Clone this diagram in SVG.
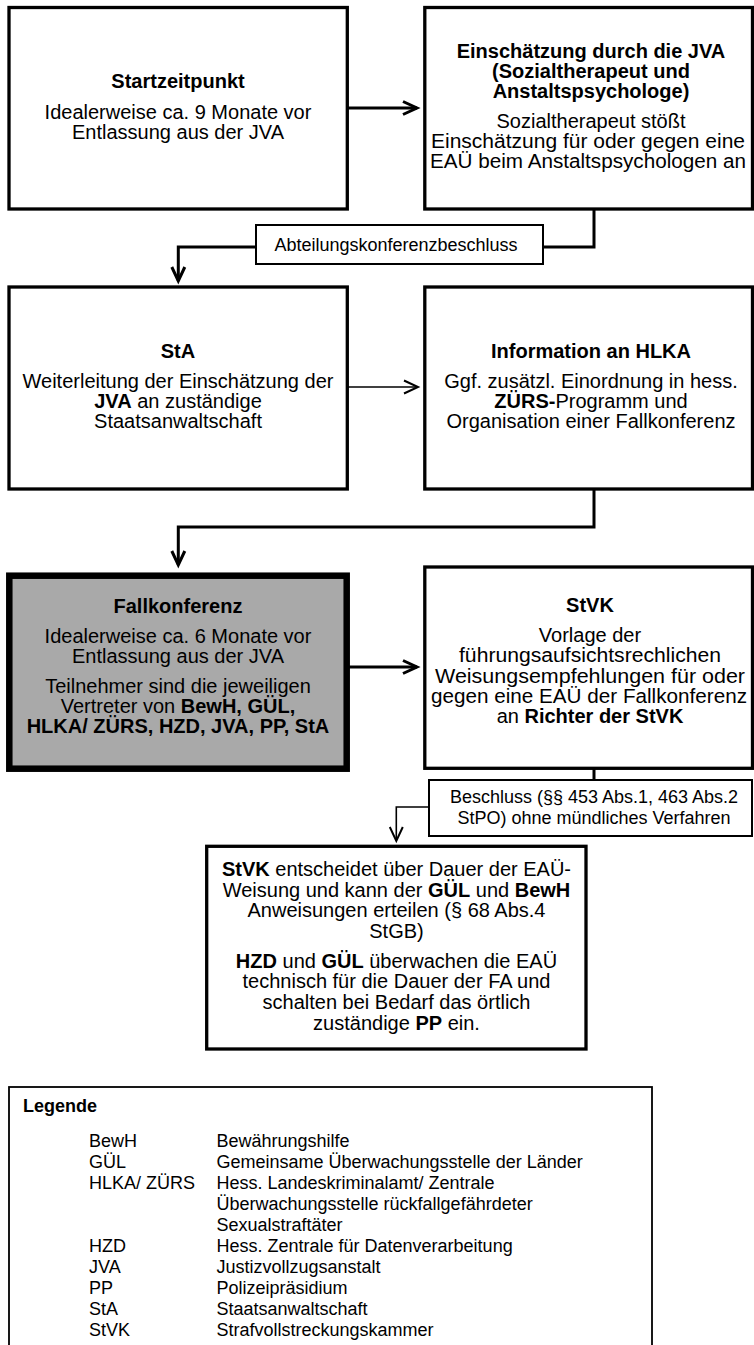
<svg xmlns="http://www.w3.org/2000/svg" width="754" height="1345" viewBox="0 0 754 1345">
<style>
.box{fill:#fff;stroke:#000;stroke-width:3.3}
.fk{fill:#a9a9a9;stroke:#000;stroke-width:6.5}
.lbl{fill:#fff;stroke:#000;stroke-width:2}
.leg{fill:#fff;stroke:#000;stroke-width:1.8}
.c{fill:none;stroke:#000;stroke-width:3}
.ct{fill:none;stroke:#000;stroke-width:1.6}
text{font-family:"Liberation Sans",Arial,Helvetica,sans-serif;fill:#000}
.t{font-size:20px;text-anchor:middle}
.s{font-size:18px;text-anchor:middle}
.lg{font-size:18px}
.b{font-weight:bold}
</style>
<defs>
<marker id="arr" markerUnits="userSpaceOnUse" markerWidth="22" markerHeight="20" viewBox="-17 -10 22 20" refX="0" refY="0" orient="auto">
<path d="M-14,-6.5 L0,0 L-14,6.5" fill="none" stroke="#000" stroke-width="3"/>
</marker>
<marker id="arrt" markerUnits="userSpaceOnUse" markerWidth="22" markerHeight="20" viewBox="-17 -10 22 20" refX="0" refY="0" orient="auto">
<path d="M-14,-6.5 L0,0 L-14,6.5" fill="none" stroke="#000" stroke-width="2"/>
</marker>
</defs>

<g id="connectors">
<path class="c" d="M347,108 H417" marker-end="url(#arr)"/>
<path class="c" d="M594,209 V247 H543"/>
<path class="c" d="M256,247 H178.3 V281" marker-end="url(#arr)"/>
<path class="ct" d="M347,387 H418" marker-end="url(#arrt)"/>
<path class="c" d="M594,489 V527 H178.3 V565" marker-end="url(#arr)"/>
<path class="c" d="M346,667 H417" marker-end="url(#arr)"/>
<path class="c" d="M594,769 V780"/>
<path class="ct" d="M429,807 H396.3 V841" marker-end="url(#arrt)"/>
</g>

<g id="label-abteilung">
<rect class="lbl" x="256" y="225" width="287" height="39"/>
<text class="s" x="396" y="250.5">Abteilungskonferenzbeschluss</text>
</g>

<g id="label-beschluss">
<rect class="lbl" x="429" y="780" width="323" height="56"/>
<text class="s"><tspan x="594" y="803">Beschluss (§§ 453 Abs.1, 463 Abs.2</tspan><tspan x="594" y="824">StPO) ohne mündliches Verfahren</tspan></text>
</g>

<g id="startzeitpunkt">
<rect class="box" x="9" y="7.5" width="338.3" height="201.5"/>
<text class="t"><tspan class="b" x="178" y="88">Startzeitpunkt</tspan><tspan x="178" y="119">Idealerweise ca. 9 Monate vor</tspan><tspan x="178" y="139">Entlassung aus der JVA</tspan></text>
</g>

<g id="einschaetzung">
<rect class="box" x="424.8" y="7.5" width="327.7" height="201.5"/>
<text class="t"><tspan class="b" x="591" y="58">Einschätzung durch die JVA</tspan><tspan class="b" x="591" y="78">(Sozialtherapeut und</tspan><tspan class="b" x="591" y="98">Anstaltspsychologe)</tspan><tspan x="591" y="128">Sozialtherapeut stößt</tspan><tspan x="588" y="148" textLength="314" lengthAdjust="spacingAndGlyphs">Einschätzung für oder gegen eine</tspan><tspan x="588" y="168" textLength="316" lengthAdjust="spacingAndGlyphs">EAÜ beim Anstaltspsychologen an</tspan></text>
</g>

<g id="sta">
<rect class="box" x="9" y="287" width="338.3" height="202"/>
<text class="t"><tspan class="b" x="178" y="358">StA</tspan><tspan x="178" y="388">Weiterleitung der Einschätzung der</tspan><tspan x="178" y="408"><tspan class="b">JVA</tspan> an zuständige</tspan><tspan x="178" y="428">Staatsanwaltschaft</tspan></text>
</g>

<g id="hlka">
<rect class="box" x="424.8" y="287" width="327.7" height="202"/>
<text class="t"><tspan class="b" x="591" y="358">Information an HLKA</tspan><tspan x="591" y="388">Ggf. zusätzl. Einordnung in hess.</tspan><tspan x="591" y="408"><tspan class="b">ZÜRS-</tspan>Programm und</tspan><tspan x="591" y="428">Organisation einer Fallkonferenz</tspan></text>
</g>

<g id="fallkonferenz">
<rect class="fk" x="9.3" y="575.7" width="337.4" height="193"/>
<text class="t"><tspan class="b" x="178" y="613">Fallkonferenz</tspan><tspan x="178" y="643">Idealerweise ca. 6 Monate vor</tspan><tspan x="178" y="663">Entlassung aus der JVA</tspan><tspan x="178" y="693">Teilnehmer sind die jeweiligen</tspan><tspan x="178" y="713">Vertreter von <tspan class="b">BewH, GÜL,</tspan></tspan><tspan class="b" x="178" y="733">HLKA/ ZÜRS, HZD, JVA, PP, StA</tspan></text>
</g>

<g id="stvk">
<rect class="box" x="424.8" y="567" width="327.7" height="201.3"/>
<text class="t"><tspan class="b" x="590" y="612">StVK</tspan><tspan x="590" y="642">Vorlage der</tspan><tspan x="590" y="662" textLength="262" lengthAdjust="spacingAndGlyphs">führungsaufsichtsrechlichen</tspan><tspan x="590" y="683" textLength="310" lengthAdjust="spacingAndGlyphs">Weisungsempfehlungen für oder</tspan><tspan x="589" y="703" textLength="316" lengthAdjust="spacingAndGlyphs">gegen eine EAÜ der Fallkonferenz</tspan><tspan x="590" y="723">an <tspan class="b">Richter der StVK</tspan></tspan></text>
</g>

<g id="entscheidung">
<rect class="box" x="206.7" y="846.3" width="379.3" height="202.7"/>
<text class="t"><tspan x="396.5" y="876"><tspan class="b">StVK</tspan> entscheidet über Dauer der EAÜ-</tspan><tspan x="396.5" y="897">Weisung und kann der <tspan class="b">GÜL</tspan> und <tspan class="b">BewH</tspan></tspan><tspan x="396.5" y="917">Anweisungen erteilen (§ 68 Abs.4</tspan><tspan x="396.5" y="938">StGB)</tspan><tspan x="396.5" y="968"><tspan class="b">HZD</tspan> und <tspan class="b">GÜL</tspan> überwachen die EAÜ</tspan><tspan x="396.5" y="988">technisch für die Dauer der FA und</tspan><tspan x="396.5" y="1009">schalten bei Bedarf das örtlich</tspan><tspan x="396.5" y="1030">zuständige <tspan class="b">PP</tspan> ein.</tspan></text>
</g>

<g id="legende">
<rect class="leg" x="9" y="1087" width="643" height="300"/>
<text class="lg b" x="23" y="1112">Legende</text>
<text class="lg"><tspan x="89" y="1147">BewH</tspan><tspan x="89" y="1168">GÜL</tspan><tspan x="89" y="1189">HLKA/ ZÜRS</tspan><tspan x="89" y="1252">HZD</tspan><tspan x="89" y="1273">JVA</tspan><tspan x="89" y="1294">PP</tspan><tspan x="89" y="1315">StA</tspan><tspan x="89" y="1336">StVK</tspan></text>
<text class="lg"><tspan x="216.5" y="1147">Bewährungshilfe</tspan><tspan x="216.5" y="1168">Gemeinsame Überwachungsstelle der Länder</tspan><tspan x="216.5" y="1189">Hess. Landeskriminalamt/ Zentrale</tspan><tspan x="216.5" y="1210">Überwachungsstelle rückfallgefährdeter</tspan><tspan x="216.5" y="1231">Sexualstraftäter</tspan><tspan x="216.5" y="1252">Hess. Zentrale für Datenverarbeitung</tspan><tspan x="216.5" y="1273">Justizvollzugsanstalt</tspan><tspan x="216.5" y="1294">Polizeipräsidium</tspan><tspan x="216.5" y="1315">Staatsanwaltschaft</tspan><tspan x="216.5" y="1336">Strafvollstreckungskammer</tspan></text>
</g>
</svg>
